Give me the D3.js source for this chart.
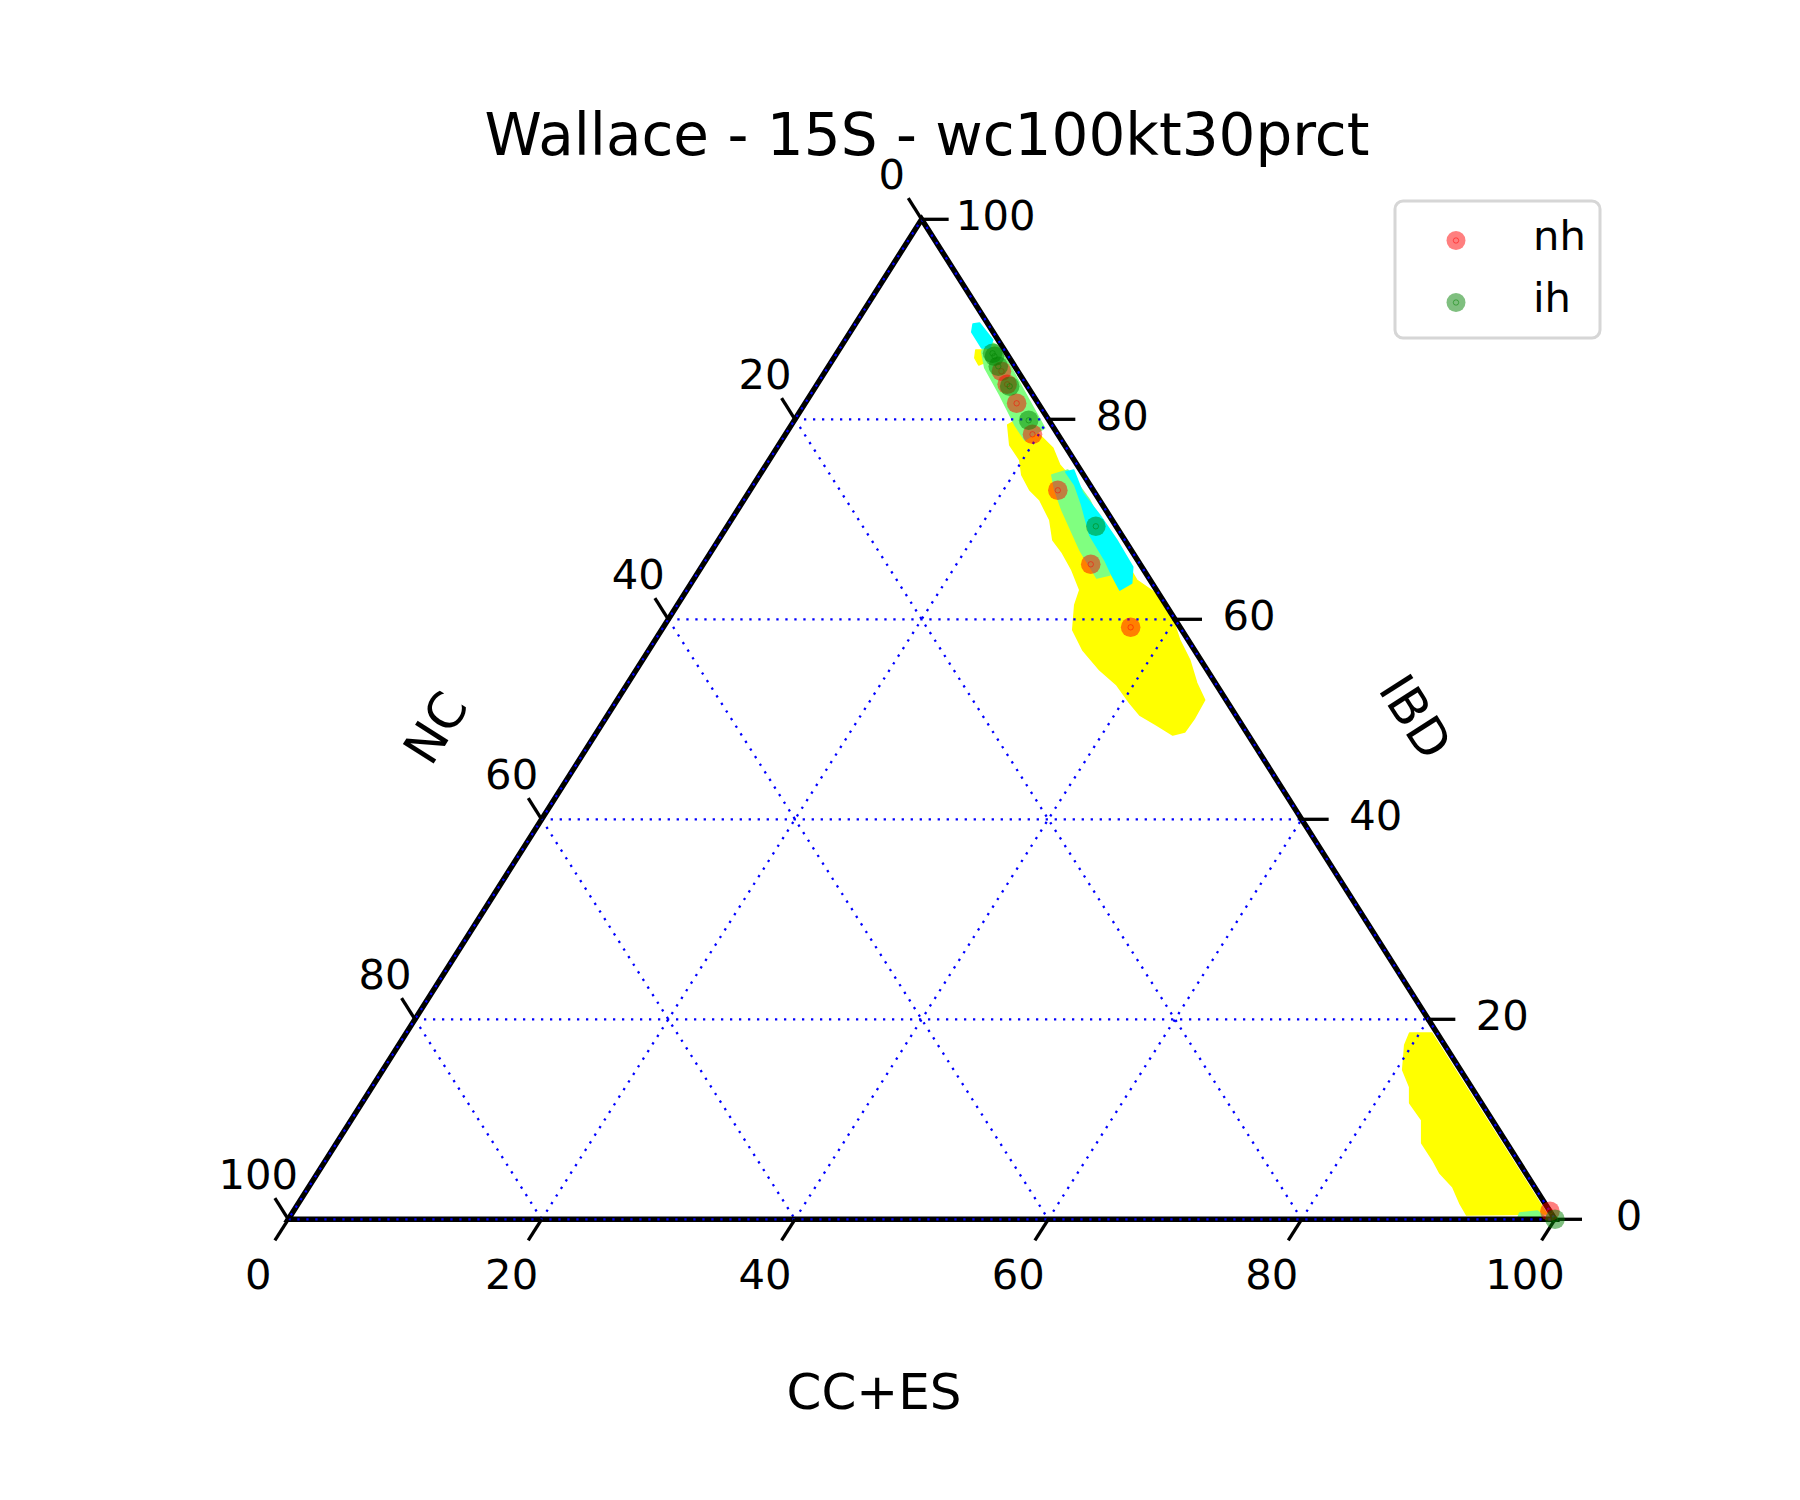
<!DOCTYPE html>
<html><head><meta charset="utf-8">
<script src="https://cdn.jsdelivr.net/npm/d3@7"></script>
<style>body{margin:0;background:#fff}svg{display:block}text{font-family:"DejaVu Sans",sans-serif;fill:#000}</style>
</head><body><svg id="chart" width="1800" height="1500"></svg>
<script>
// ---------- data (ternary coordinates, each pair is [CC+ES, IBD], NC = 100 - both) ----------
const chartTitle = "Wallace - 15S - wc100kt30prct";
const bottomAxisLabel = "CC+ES";
const leftAxisLabel = "NC";
const rightAxisLabel = "IBD";
const tickValues = [0, 20, 40, 60, 80, 100];
const gridValues = [20, 40, 60, 80];
const seriesNames = ["nh", "ih"];
const seriesColors = ["#ff0000", "#008000"];

const nhPoints = [[13.9,84.8],[15.0,83.5],[16.7,81.6],[19.5,78.5],[24.3,72.9],[30.6,65.5],[36.9,59.2],[99.2,0.8]];
const ihPoints = [[12.3,86.6],[12.6,86.3],[13.4,85.3],[15.3,83.3],[18.5,79.9],[29.1,69.3],[100,0]];

// hex-bin coverage regions (outlines)
const yellowMain = [[17.08,79.43],[17.68,80.13],[18.82,79.43],[20.75,77.93],[21.79,77.13],[23.19,75.43],[25.22,73.73],[29.09,69.93],[33.07,65.93],[35.01,63.93],[37.63,62.33],[39.81,60.03],[41.41,57.93],[43.20,55.93],[44.90,53.63],[46.38,51.93],[46.49,50.13],[46.40,48.73],[45.61,48.43],[43.84,49.43],[42.00,50.43],[40.61,51.63],[38.69,53.43],[36.59,54.93],[34.25,56.93],[32.46,58.93],[31.37,61.43],[31.02,62.93],[29.39,64.93],[27.70,66.73],[26.39,67.93],[25.15,69.93],[23.36,71.93],[22.07,72.93],[20.69,74.43],[19.78,75.93],[18.24,77.43]];
const yellowSmall = [[10.81,86.93],[11.36,86.93],[12.20,85.73],[11.79,85.43],[11.13,86.13]];
const yellowBottom = [[79.21,18.63],[80.95,18.63],[99.08,0.53],[92.81,0.43],[91.66,1.63],[90.31,3.23],[88.58,4.63],[87.38,5.93],[85.66,7.63],[84.51,9.93],[82.71,11.63],[81.91,13.23],[80.51,14.93],[79.42,17.43]];
const greenTop = [[11.10,87.93],[11.38,86.73],[12.42,85.13],[14.95,82.43],[17.64,79.43],[19.18,77.93],[20.15,79.13],[18.46,80.93],[14.24,85.43],[12.22,87.43]];
const greenMid = [[23.06,74.43],[24.07,74.93],[27.30,71.93],[30.88,67.93],[32.63,64.43],[31.76,64.13],[29.02,66.93],[25.60,70.93],[24.04,72.93]];
const greenBottom = [[96.89,0.63],[98.21,0.83],[99.08,0.23],[97.0,0.13]];
const cyanTop = [[9.29,89.53],[9.75,89.63],[11.65,87.93],[11.81,87.13],[11.18,87.13],[9.59,88.73]];
const cyanMid = [[24.01,74.73],[24.54,74.93],[26.40,72.63],[28.84,70.43],[31.44,67.93],[34.05,65.23],[34.77,63.63],[34.17,62.93],[32.79,64.43],[31.49,65.93],[29.05,68.43],[26.92,71.43],[25.37,73.43]];

const regionColors = {yellow:"#ffff00", green:"#80ff80", cyan:"#00ffff"};

// ---------- drawing ----------
const W = 1800, H = 1500;
const svg = d3.select("#chart");
svg.append("rect").attr("width", W).attr("height", H).attr("fill", "#fff");

const xS = d3.scaleLinear().domain([0, 100]).range([288.3, 1555]);
const yS = d3.scaleLinear().domain([0, 100]).range([1219.3, 219.3]);
const px = (b, r) => [xS(b + r / 2), yS(r)];

const poly = d3.line().x(d => px(d[0], d[1])[0]).y(d => px(d[0], d[1])[1]).curve(d3.curveLinearClosed);

const regions = [
  [yellowMain, "yellow"], [yellowSmall, "yellow"], [yellowBottom, "yellow"],
  [greenTop, "green"], [greenMid, "green"], [greenBottom, "green"],
  [cyanTop, "cyan"], [cyanMid, "cyan"]
];
const gReg = svg.append("g");
regions.forEach(([pts, c]) => {
  gReg.append("path").attr("d", poly(pts)).attr("fill", regionColors[c])
    .attr("stroke", regionColors[c]).attr("stroke-width", 1.5).attr("stroke-linejoin", "round");
});

// grid lines
const gGrid = svg.append("g").attr("fill", "none").attr("stroke", "#0000ff")
  .attr("stroke-width", 2.3).attr("stroke-dasharray", "2.3,6.7");
const seg = (a, b) => { const p = px(a[0], a[1]), q = px(b[0], b[1]); return `M${p[0]},${p[1]}L${q[0]},${q[1]}`; };
gridValues.forEach(v => {
  gGrid.append("path").attr("d", seg([0, v], [100 - v, v]));       // constant IBD
  gGrid.append("path").attr("d", seg([v, 0], [v, 100 - v]));       // constant CC+ES
  gGrid.append("path").attr("d", seg([0, 100 - v], [100 - v, 0])); // constant NC
});

// triangle frame
const frame = [[0, 0], [100, 0], [0, 100]];
svg.append("path").attr("d", poly(frame)).attr("fill", "none").attr("stroke", "#000")
  .attr("stroke-width", 5.5).attr("stroke-linejoin", "miter");
svg.append("path").attr("d", poly(frame)).attr("fill", "none").attr("stroke", "#0000ff")
  .attr("stroke-width", 2.3).attr("stroke-dasharray", "2.3,6.7");

// ticks & labels
const gTicks = svg.append("g");
const tickFont = 41.7;
function tick(pt, dx, dy, lx, ly, label) {
  gTicks.append("line").attr("x1", pt[0]).attr("y1", pt[1]).attr("x2", pt[0] + dx).attr("y2", pt[1] + dy)
    .attr("stroke", "#000").attr("stroke-width", 3.3);
  gTicks.append("text").attr("x", pt[0] + lx).attr("y", pt[1] + ly + tickFont * 0.365)
    .attr("text-anchor", "middle").attr("font-size", tickFont).text(label);
}
tickValues.forEach(v => {
  tick(px(v, 0), -13.4, 21.1, -30, 54, v);        // bottom: CC+ES
  tick(px(0, 100 - v), -13.4, -21.1, -30, -46, v); // left: NC
  tick(px(100 - v, v), 27, 0, 74, -4.5, v);        // right: IBD
});

// axis labels
svg.append("text").attr("x", 874).attr("y", 1409).attr("text-anchor", "middle")
  .attr("font-size", 50).text(bottomAxisLabel);
svg.append("text").attr("transform", "translate(436,728) rotate(-57.6)").attr("text-anchor", "middle")
  .attr("dominant-baseline", "central").attr("font-size", 50).text(leftAxisLabel);
svg.append("text").attr("transform", "translate(1415,717) rotate(57.6)").attr("text-anchor", "middle")
  .attr("dominant-baseline", "central").attr("font-size", 50).text(rightAxisLabel);

// scatter points
const gPts = svg.append("g");
[nhPoints, ihPoints].forEach((pts, i) => {
  pts.forEach(d => {
    const p = px(d[0], d[1]);
    gPts.append("circle").attr("cx", p[0]).attr("cy", p[1]).attr("r", 9.8)
      .attr("fill", seriesColors[i]).attr("fill-opacity", 0.5);
    gPts.append("circle").attr("cx", p[0]).attr("cy", p[1]).attr("r", 2.7)
      .attr("fill", "none").attr("stroke", seriesColors[i]).attr("stroke-opacity", 0.5).attr("stroke-width", 1);
  });
});

// title
svg.append("text").attr("x", 927).attr("y", 155).attr("text-anchor", "middle")
  .attr("font-size", 58).text(chartTitle);

// legend
const gLeg = svg.append("g");
gLeg.append("rect").attr("x", 1395).attr("y", 201).attr("width", 205).attr("height", 137)
  .attr("rx", 8).attr("fill", "#fff").attr("stroke", "#d6d6d6").attr("stroke-width", 3);
seriesNames.forEach((n, i) => {
  const cy = 240.5 + i * 62;
  gLeg.append("circle").attr("cx", 1456).attr("cy", cy).attr("r", 9.5)
    .attr("fill", seriesColors[i]).attr("fill-opacity", 0.5);
  gLeg.append("circle").attr("cx", 1456).attr("cy", cy).attr("r", 2.7)
    .attr("fill", "none").attr("stroke", seriesColors[i]).attr("stroke-opacity", 0.5).attr("stroke-width", 1);
  gLeg.append("text").attr("x", 1533).attr("y", cy + 9).attr("font-size", tickFont).text(n);
});
</script></body></html>
